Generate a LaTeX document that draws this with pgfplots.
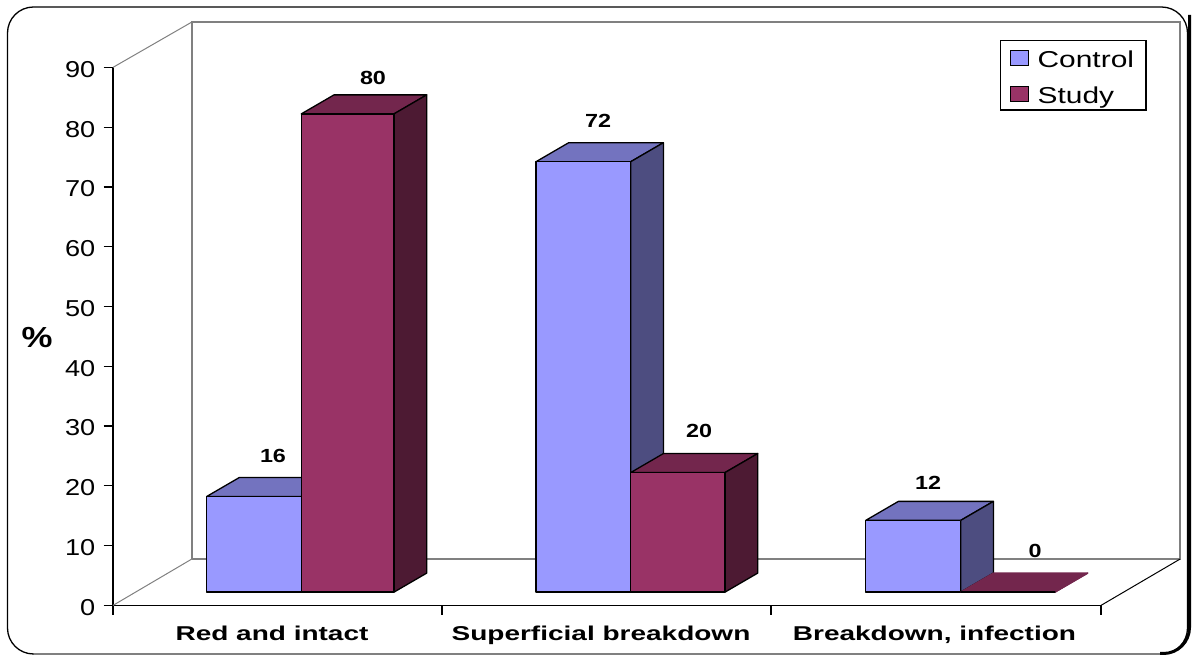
\documentclass[border=0pt]{standalone}
\usepackage{pgfplots}
\pgfplotsset{compat=1.18}
\usepackage{fontspec}
\setmainfont{Liberation Sans}

\definecolor{ctlfront}{HTML}{9999FF}
\definecolor{ctltop}{HTML}{7373BF}
\definecolor{ctlside}{HTML}{4D4D80}
\definecolor{stufront}{HTML}{993366}
\definecolor{stutop}{HTML}{73264D}
\definecolor{stuside}{HTML}{4D1A33}
\definecolor{wallgray}{HTML}{808080}

% Bar with a depth: left edge, right edge, value, three face colours, edge colour of top and side.
\newcommand{\deepbar}[7]{%
  \pgfmathsetmacro{\yf}{#3+2.22}%
  \pgfmathsetmacro{\yb}{#3+2.22+3.18}%
  \pgfmathsetmacro{\xa}{#1+32.7}%
  \pgfmathsetmacro{\xb}{#2+32.7}%
  \addplot[fill=#5,draw=#7,line width=1.3pt,line join=round] coordinates {(#1,\yf) (#2,\yf) (\xb,\yb) (\xa,\yb)} --cycle;
  \addplot[fill=#6,draw=#7,line width=1.3pt,line join=round] coordinates {(#2,2.22) (\xb,5.4) (\xb,\yb) (#2,\yf)} --cycle;
  \addplot[fill=#4,draw=black,line width=1.3pt,line join=round] coordinates {(#1,2.22) (#2,2.22) (#2,\yf) (#1,\yf)} --cycle;
}
% Value printed above a bar: horizontal position, value, rise above the back of the bar top.
\newcommand{\valuelabel}[3]{%
  \node[font=\fontsize{19}{19}\selectfont\bfseries] at (axis cs:#1,{#2+5.4}) [yshift=#3pt] {\scalebox{1.23}[1]{#2}};
}

\begin{document}
\begin{tikzpicture}[x=1pt,y=1pt]
\useasboundingbox (0,0) rectangle (1192,655);
% Rounded outer frame with its dark lower right edge
\draw[black,line width=1.3pt,rounded corners=26pt] (7.5,1) rectangle (1187.5,648);
\draw[wallgray,line width=1.5pt] (34,1) -- (1165,1);
\draw[black,line width=3pt,rounded corners=26pt] (1189.5,640) -- (1189.5,1.5) -- (1160,1.5);
\begin{axis}[
  at={(113pt,49.6pt)}, anchor=south west,
  scale only axis, x=1pt, y=5.978pt,
  xmin=113, xmax=1101, ymin=0, ymax=90,
  clip=false,
  axis y line*=left, axis x line*=bottom,
  axis line style={black,line width=1.3pt,-},
  tick style={black,line width=1.3pt},
  tick align=outside, major tick length=9.5pt,
  ytick={0,10,...,90},
  yticklabel={\scalebox{1.18}[1]{\pgfmathprintnumber{\tick}}},
  yticklabel style={font=\fontsize{23}{23}\selectfont,inner xsep=0pt,xshift=-8pt,yshift=-2pt},
  /pgf/number format/assume math mode=true,
  xtick={113,442,771,1101},
  xticklabels={,,,},
  extra x ticks={272,601,934.5},
  extra x tick labels={\scalebox{1.4}[1]{Red and intact},\scalebox{1.4}[1]{Superficial breakdown},\scalebox{1.4}[1]{{Breakdown, infection}}},
  extra x tick style={major tick length=0pt,tick style={draw=none}},
  xticklabel style={font=\fontsize{20}{20}\selectfont\bfseries,inner sep=0pt,anchor=base,yshift=-35.5pt},
  ylabel={\scalebox{1.2}[1]{\%}},
  ylabel style={rotate=-90,at={(axis cs:37,44.8)},anchor=center,font=\fontsize{29}{29}\selectfont\bfseries,inner sep=0pt},
  legend style={at={(axis cs:999.5,94.6)},anchor=north west,draw=black,line width=1.3pt,fill=white,
    font=\fontsize{23}{23}\selectfont,inner xsep=10pt,inner ysep=4pt,row sep=10.5pt,
    /tikz/every even column/.append style={column sep=0pt}},
  legend cell align=left,
]
% Back wall, floor edges and side wall
\addplot[wallgray,line width=2pt,forget plot] coordinates {(191.7,7.745) (191.7,97.57) (1180,97.57) (1180,7.745) (191.7,7.745)};
\addplot[wallgray,line width=1pt,forget plot] coordinates {(113,90) (191.7,97.57)};
\addplot[wallgray,line width=1pt,forget plot] coordinates {(113,0) (191.7,7.745)};
\addplot[black,line width=1pt,forget plot] coordinates {(1101,0) (1180,7.745)};

\pgfplotsset{every axis plot/.append style={forget plot}}
% Red and intact
\deepbar{206.7}{301.3}{16}{ctlfront}{ctltop}{ctlside}{black}
\deepbar{301.3}{394}{80}{stufront}{stutop}{stuside}{black}
% Superficial breakdown
\deepbar{536}{630.7}{72}{ctlfront}{ctltop}{ctlside}{black}
\deepbar{630.7}{725}{20}{stufront}{stutop}{stuside}{black}
% Breakdown, infection
\deepbar{865.7}{960.7}{12}{ctlfront}{ctltop}{ctlside}{black}
\deepbar{960.7}{1055}{0}{stufront}{stutop}{stutop}{stutop}

\valuelabel{273}{16}{22}
\valuelabel{373}{80}{16.5}
\valuelabel{598}{72}{21.5}
\valuelabel{699}{20}{22.5}
\valuelabel{928}{12}{19}
\valuelabel{1035}{0}{22.5}

\pgfplotsset{every axis plot/.append style={forget plot=false}}
\addlegendimage{legend image code/.code={\path[draw=none] (7pt,0pt) -- (32pt,0pt);\draw[fill=ctlfront,draw=black,line width=1pt] (7pt,-8pt) rectangle (25pt,7pt);}}
\addlegendentry{\raisebox{-1pt}{\rule{0pt}{21pt}\scalebox{1.3}[1]{Control}}}
\addlegendimage{legend image code/.code={\path[draw=none] (7pt,0pt) -- (32pt,0pt);\draw[fill=stufront,draw=black,line width=1pt] (7pt,-8pt) rectangle (25pt,7pt);}}
\addlegendentry{\raisebox{-1pt}{\rule{0pt}{21pt}\scalebox{1.3}[1]{Study}}}
\end{axis}
\end{tikzpicture}
\end{document}
